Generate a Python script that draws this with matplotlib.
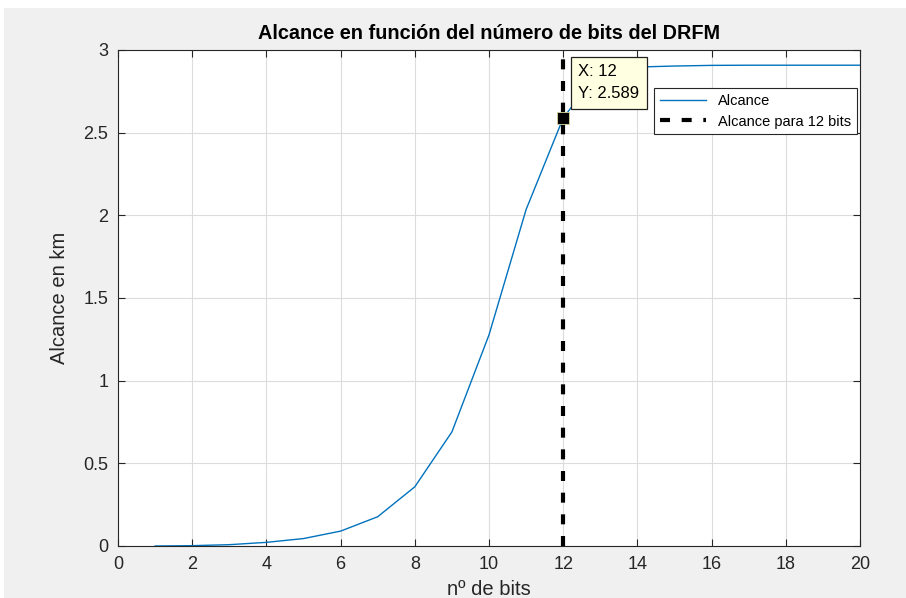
import matplotlib.pyplot as plt
from matplotlib.patches import Rectangle

# datos
bits = [1, 2, 3, 4, 5, 6, 7, 8, 9, 10, 11, 12, 13, 14, 15, 16, 17, 18, 19, 20]
alcance = [0.0, 0.002, 0.008, 0.022, 0.045, 0.09, 0.177, 0.358, 0.69, 1.277,
           2.035, 2.589, 2.882, 2.897, 2.903, 2.907, 2.908, 2.908, 2.908, 2.908]
bits_sel = 12
alcance_sel = 2.589

plt.rcParams['font.family'] = ['Liberation Sans', 'DejaVu Sans']

fig = plt.figure(figsize=(9.06, 5.98), dpi=100, facecolor='#f0f0f0')
# borde blanco de la captura
fig.patches.append(Rectangle((0, 1 - 8 / 598), 1, 8 / 598, transform=fig.transFigure,
                             fc='white', ec='none'))
fig.patches.append(Rectangle((0, 0), 4 / 906, 1, transform=fig.transFigure,
                             fc='white', ec='none'))

ax = fig.add_axes([118 / 906, 52 / 598, 742 / 906, 496 / 598])

ax.plot(bits, alcance, color='#0072bd', lw=1.0, label='Alcance')
ax.plot([bits_sel, bits_sel], [0, 3], color='black', lw=3, ls=(0, (2.4, 2.8)),
        label='Alcance para 12 bits')

# datatip
ax.plot(bits_sel, alcance_sel, marker='s', ms=8, color='black',
        markeredgecolor='#d8d8a0', markeredgewidth=0.6, zorder=5)
ax.annotate('X: %d\nY: %.3f' % (bits_sel, alcance_sel), xy=(bits_sel, alcance_sel),
            xytext=(11, 12), textcoords='offset points', fontsize=12,
            va='bottom', ha='left', linespacing=1.6,
            bbox=dict(boxstyle='square,pad=0.45', fc='#ffffe1', ec='#202020', lw=0.9),
            zorder=6)

ax.set_xlim(0, 20)
ax.set_ylim(0, 3)
ax.set_xticks(range(0, 21, 2))
ax.set_yticks([0, 0.5, 1, 1.5, 2, 2.5, 3])
ax.set_yticklabels(['0', '0.5', '1', '1.5', '2', '2.5', '3'])
ax.grid(True, color='#dcdcdc', lw=0.8)
ax.set_axisbelow(True)
ax.tick_params(direction='in', top=True, right=True, labelsize=13, colors='#262626',
               length=5, width=0.8, pad=7)
for s in ax.spines.values():
    s.set_color('#262626')
    s.set_linewidth(0.8)

ax.set_title('Alcance en función del número de bits del DRFM', fontsize=14.3,
             fontweight='bold', color='black', pad=8)
ax.set_xlabel('nº de bits', fontsize=14.5, color='#262626', labelpad=5)
ax.set_ylabel('Alcance en km', fontsize=14.5, color='#262626', labelpad=10)

leg = ax.legend(loc='upper right', bbox_to_anchor=(0.996, 0.923), borderaxespad=0,
                fontsize=10.5, fancybox=False, framealpha=1, edgecolor='#262626',
                handlelength=3.2, borderpad=0.4, labelspacing=0.45)
leg.get_frame().set_linewidth(0.8)

fig.savefig('out.png', dpi=100, facecolor=fig.get_facecolor())
